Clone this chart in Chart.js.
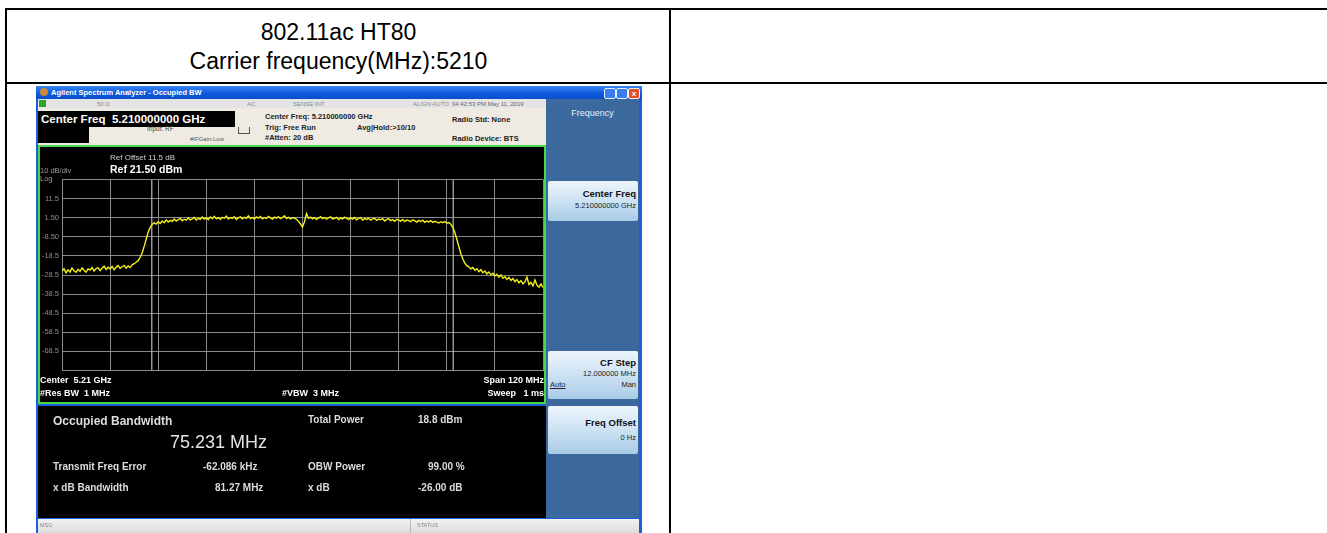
<!DOCTYPE html>
<html>
<head>
<meta charset="utf-8">
<script src="https://cdn.jsdelivr.net/npm/chart.js@4.4.1/dist/chart.umd.min.js"></script>
<style>
  html, body { margin: 0; padding: 0; background: #fff; }
  body { width: 1327px; height: 533px; overflow: hidden; position: relative; font-family: "Liberation Sans", Arial, sans-serif; }
  .a { position: absolute; white-space: nowrap; }
  .ln { position: absolute; background: #000; }
  .hdr { position: absolute; left: 7px; width: 663px; text-align: center; font-size: 23px; color: #000; }
  .st { position: absolute; top: 100px; height: 8px; font-size: 6px; line-height: 8px; color: #8a8a8a; }
  .bt { position: absolute; left: 548px; width: 90px; background: linear-gradient(#eef5fb, #c9e0f2 55%, #a9cbe6); border-radius: 2px; }
  .bt .t { position: absolute; right: 2px; font-weight: bold; font-size: 9.5px; color: #111; }
  .bt .s { position: absolute; right: 2px; font-size: 7.5px; color: #222; }
  .bw { color: #dcdcdc; font-weight: bold; font-size: 10px; }
  .ax { color: #fff; font-weight: bold; font-size: 9px; }
</style>
</head>
<body>
<!-- table grid -->
<div class="ln" style="left:5px;top:8px;width:1322px;height:2px"></div>
<div class="ln" style="left:5px;top:82px;width:1322px;height:2px"></div>
<div class="ln" style="left:5px;top:8px;width:2px;height:525px"></div>
<div class="ln" style="left:669px;top:8px;width:2px;height:525px"></div>
<div class="hdr" style="top:19px">802.11ac HT80</div>
<div class="hdr" style="top:48px">Carrier frequency(MHz):5210</div>

<!-- analyzer window -->
<div class="a" style="left:36px;top:86px;width:606px;height:450px;background:#1d5fd6"></div>
<div class="a" style="left:36px;top:86px;width:606px;height:13px;background:linear-gradient(#3b86f0,#0a58dc 60%,#0b50c8)"></div>
<div class="a" style="left:40px;top:88px;width:8px;height:8px;border-radius:4px;background:#c98a3a"></div>
<div class="a" style="left:51px;top:87px;font-size:7.5px;line-height:11px;color:#fff;font-weight:bold">Agilent Spectrum Analyzer - Occupied BW</div>
<div class="a" style="left:604px;top:88px;width:10px;height:9px;background:#3a7df0;border:1px solid #e8f0ff;border-radius:2px"></div>
<div class="a" style="left:616px;top:88px;width:10px;height:9px;background:#3a7df0;border:1px solid #e8f0ff;border-radius:2px"></div>
<div class="a" style="left:628px;top:88px;width:10px;height:9px;background:#e0512c;border:1px solid #fff0e8;border-radius:2px;color:#fff;font-size:8px;line-height:9px;text-align:center;font-weight:bold">x</div>

<!-- status row -->
<div class="a" style="left:38px;top:99px;width:508px;height:9px;background:#e4e4e4"></div>
<div class="a" style="left:39px;top:100px;width:7px;height:7px;background:#2aa52a"></div>
<div class="st" style="left:97px">50 Ω</div>
<div class="st" style="left:247px">AC</div>
<div class="st" style="left:293px">SENSE:INT</div>
<div class="st" style="left:413px">ALIGN AUTO</div>
<div class="st" style="left:452px;color:#666">04:42:53 PM May 11, 2019</div>

<!-- settings band -->
<div class="a" style="left:38px;top:108px;width:508px;height:37px;background:#efebe2"></div>
<div class="a" style="left:38px;top:111px;width:197px;height:16px;background:#000;color:#fff;font-weight:bold;font-size:11.5px;line-height:16px;padding-left:3px;box-sizing:border-box">Center Freq&nbsp; 5.210000000 GHz</div>
<div class="a" style="left:38px;top:127px;width:51px;height:16px;background:#000"></div>
<div class="a" style="left:147px;top:125px;font-size:6.5px;color:#444">Input: RF</div>
<div class="a" style="left:190px;top:136px;font-size:6px;color:#555">#IFGain:Low</div>
<div class="a" style="left:238px;top:127px;width:10px;height:6px;border:1px solid #555;border-top:none"></div>
<div class="a" style="left:265px;top:112px;font-size:7.5px;font-weight:bold;color:#222">Center Freq: 5.210000000 GHz</div>
<div class="a" style="left:265px;top:123px;font-size:7.5px;font-weight:bold;color:#222">Trig: Free Run</div>
<div class="a" style="left:357px;top:123px;font-size:7.5px;font-weight:bold;color:#222">Avg|Hold:&gt;10/10</div>
<div class="a" style="left:265px;top:133px;font-size:7.5px;font-weight:bold;color:#222">#Atten: 20 dB</div>
<div class="a" style="left:452px;top:115px;font-size:7.5px;font-weight:bold;color:#222">Radio Std: None</div>
<div class="a" style="left:452px;top:134px;font-size:7.5px;font-weight:bold;color:#222">Radio Device: BTS</div>

<!-- right soft-key panel -->
<div class="a" style="left:546px;top:99px;width:93px;height:419px;background:#3b699e"></div>
<div class="a" style="left:546px;top:108px;width:93px;text-align:center;font-size:9px;color:#e6eef8">Frequency</div>
<div class="bt" style="top:181px;height:40px"><div class="t" style="top:7px">Center Freq</div><div class="s" style="top:20px">5.210000000 GHz</div></div>
<div class="bt" style="top:351px;height:48px"><div class="t" style="top:6px">CF Step</div><div class="s" style="top:18px">12.000000 MHz</div>
  <div class="s" style="top:29px;right:auto;left:2px;text-decoration:underline;color:#223">Auto</div><div class="s" style="top:29px">Man</div></div>
<div class="bt" style="top:406px;height:48px"><div class="t" style="top:11px">Freq Offset</div><div class="s" style="top:27px">0 Hz</div></div>

<!-- plot box -->
<div class="a" style="left:38px;top:145px;width:508px;height:259px;background:#000;border:2px solid #47d847;box-sizing:border-box"></div>
<div class="a" style="left:40px;top:172px;width:505px;height:206px"><canvas id="spec"></canvas></div>
<div class="a" style="left:40px;top:166px;font-size:7.5px;color:#9a9a9a">10 dB/div</div>
<div class="a" style="left:40px;top:174px;font-size:7.5px;color:#9a9a9a">Log</div>
<div class="a" style="left:110px;top:153px;font-size:8px;color:#d0d0d0">Ref Offset 11.5 dB</div>
<div class="a" style="left:110px;top:163px;font-size:10.5px;color:#fff;font-weight:bold">Ref 21.50 dBm</div>
<div class="a ax" style="left:40px;top:375px">Center&nbsp; 5.21 GHz</div>
<div class="a ax" style="left:40px;top:388px">#Res BW&nbsp; 1 MHz</div>
<div class="a ax" style="left:282px;top:388px">#VBW&nbsp; 3 MHz</div>
<div class="a ax" style="right:783px;top:375px">Span 120 MHz</div>
<div class="a ax" style="right:783px;top:388px">Sweep&nbsp;&nbsp; 1 ms</div>

<!-- result panel -->
<div class="a" style="left:38px;top:406px;width:508px;height:112px;background:#000"></div>
<div class="a bw" style="left:53px;top:414px;font-size:12px">Occupied Bandwidth</div>
<div class="a" style="left:170px;top:432px;font-size:18px;color:#e4e4e4">75.231 MHz</div>
<div class="a bw" style="left:308px;top:414px">Total Power</div>
<div class="a bw" style="left:418px;top:414px">18.8 dBm</div>
<div class="a bw" style="left:53px;top:461px">Transmit Freq Error</div>
<div class="a bw" style="left:203px;top:461px">-62.086 kHz</div>
<div class="a bw" style="left:308px;top:461px">OBW Power</div>
<div class="a bw" style="left:428px;top:461px">99.00 %</div>
<div class="a bw" style="left:53px;top:482px">x dB Bandwidth</div>
<div class="a bw" style="left:215px;top:482px">81.27 MHz</div>
<div class="a bw" style="left:308px;top:482px">x dB</div>
<div class="a bw" style="left:418px;top:482px">-26.00 dB</div>

<!-- message bar -->
<div class="a" style="left:38px;top:519px;width:601px;height:14px;background:linear-gradient(#f2f2f2,#dcdcdc)"></div>
<div class="a" style="left:40px;top:522px;font-size:5.5px;color:#888">MSG</div>
<div class="a" style="left:410px;top:519px;width:1px;height:14px;background:#bbb"></div>
<div class="a" style="left:417px;top:522px;font-size:5.5px;color:#888">STATUS</div>

<script>
// sweep: 5150 .. 5270 MHz, one trace point every 0.5 MHz (center 5.21 GHz, span 120 MHz)
const startMHz = 5150;
const stepMHz = 0.5;
const levelDbm = [
  // 5150 - 5167.5 noise floor
  -26.5, -25.2, -27.4, -25.8, -26.9, -24.9, -26.3, -27.1, -25.5, -26.6,
  -24.8, -26.0, -27.0, -25.3, -25.9, -24.6, -26.4, -25.1, -24.7, -26.2,
  -25.0, -23.9, -25.6, -24.4, -25.3, -24.0, -25.8, -24.5, -23.6, -25.0,
  -24.2, -23.5, -24.9, -23.8, -24.6, -23.2,
  // 5168 - 5173.5 lower edge
  -22.6, -21.8, -21.0, -19.2, -17.0, -13.5, -9.8, -6.0, -3.6, -2.0, -1.2, -1.8,
  // 5174 - 5208.5 plateau
  -0.6, -1.5, -0.2, -1.1, 0.4, -0.8, 0.1, -0.4, 0.8, -0.3,
  0.5, 1.1, -0.1, 0.7, 0.2, 1.3, 0.4, 0.9, 1.6, 0.3,
  1.2, 0.6, 1.8, 0.8, 1.4, 0.5, 1.9, 1.0, 2.2, 0.9,
  1.5, 0.7, 1.7, 1.2, 2.3, 0.8, 1.6, 1.1, 2.0, 0.6,
  1.4, 1.9, 0.9, 1.7, 1.2, 2.4, 1.0, 1.6, 0.8, 1.9,
  1.3, 2.1, 0.9, 1.5, 1.1, 2.2, 1.4, 0.8, 1.8, 1.2,
  2.0, 1.0, 1.6, 2.5, 1.1, 1.7, 0.9, 1.5, 1.2, 0.7,
  // 5209 - 5211.5 dip at center
  -0.4, -1.8, -3.4, -0.6, 3.6, 1.2,
  // 5212 - 5246.5 plateau
  1.8, 0.9, 1.5, 0.6, 1.3, 2.0, 1.0, 1.6, 0.7, 1.4,
  1.9, 0.8, 1.2, 1.7, 0.5, 1.3, 0.9, 1.8, 1.1, 0.6,
  1.4, 0.8, 1.6, 0.4, 1.1, 1.5, 0.3, 1.0, 0.6, 1.3,
  0.2, 0.9, 1.2, 0.1, 0.8, 0.4, 1.0, -0.2, 0.6, 0.9,
  0.0, 0.5, -0.4, 0.7, 0.2, -0.3, 0.6, -0.5, 0.3, 0.0,
  -0.6, 0.4, -0.2, -0.8, 0.1, -0.5, 0.2, -0.9, -0.3, -0.7,
  0.0, -1.0, -0.4, -0.8, -1.3, -0.6, -1.1, -0.5, -1.4, -1.0,
  // 5247 - 5270 upper edge and floor
  -1.9, -3.5, -6.2, -9.8, -13.6, -17.2, -20.1, -22.3, -23.6, -24.2,
  -25.3, -24.6, -26.0, -25.2, -26.8, -25.7, -27.3, -26.4, -27.9, -26.9,
  -28.4, -27.6, -29.0, -28.1, -29.6, -28.5, -30.2, -29.4, -30.8, -29.7,
  -31.3, -30.4, -32.0, -30.9, -32.6, -31.5, -33.1, -32.0, -29.6, -33.5,
  -32.4, -34.2, -31.1, -33.8, -34.9, -33.2, -35.1
];
// occupied bandwidth edges (MHz)
const obwEdges = [5172.4, 5247.6];
// graticule
const xTicks = [5150, 5162, 5174, 5186, 5198, 5210, 5222, 5234, 5246, 5258, 5270];
const yTicks = [21.5, 11.5, 1.5, -8.5, -18.5, -28.5, -38.5, -48.5, -58.5, -68.5, -78.5];
const yTickLabels = ['', '11.5', '1.50', '-8.50', '-18.5', '-28.5', '-38.5', '-48.5', '-58.5', '-68.5', ''];

const trace = levelDbm.map((v, i) => ({ x: startMHz + i * stepMHz, y: v }));
const edgeSets = obwEdges.map(f => ({
  data: [{ x: f, y: yTicks[0] }, { x: f, y: yTicks[yTicks.length - 1] }],
  borderColor: '#b8b8b8',
  borderWidth: 1.2,
  pointRadius: 0
}));

new Chart(document.getElementById('spec'), {
  type: 'line',
  data: {
    datasets: [{
      data: trace,
      borderColor: '#f2f21a',
      borderWidth: 1.4,
      pointRadius: 0,
      tension: 0
    }, ...edgeSets]
  },
  options: {
    responsive: true,
    maintainAspectRatio: false,
    animation: false,
    layout: { padding: { top: 6, bottom: 6, right: 2, left: 0 } },
    plugins: { legend: { display: false }, tooltip: { enabled: false } },
    scales: {
      x: {
        type: 'linear',
        min: xTicks[0],
        max: xTicks[xTicks.length - 1],
        afterBuildTicks: s => { s.ticks = xTicks.map(v => ({ value: v })); },
        afterFit: s => { s.height = 0; },
        ticks: { display: false },
        grid: { color: '#8a8a8a', drawTicks: false, lineWidth: 1 },
        border: { color: '#8a8a8a' }
      },
      y: {
        min: yTicks[yTicks.length - 1],
        max: yTicks[0],
        afterBuildTicks: s => { s.ticks = yTicks.map(v => ({ value: v })); },
        afterFit: s => { s.width = 22; },
        ticks: {
          padding: 3,
          color: '#8c8c8c',
          font: { size: 7.5, family: 'Liberation Sans' },
          callback: (v, i) => yTickLabels[i]
        },
        grid: { color: '#8a8a8a', drawTicks: false, lineWidth: 1 },
        border: { color: '#8a8a8a' }
      }
    }
  }
});
</script>
</body>
</html>
